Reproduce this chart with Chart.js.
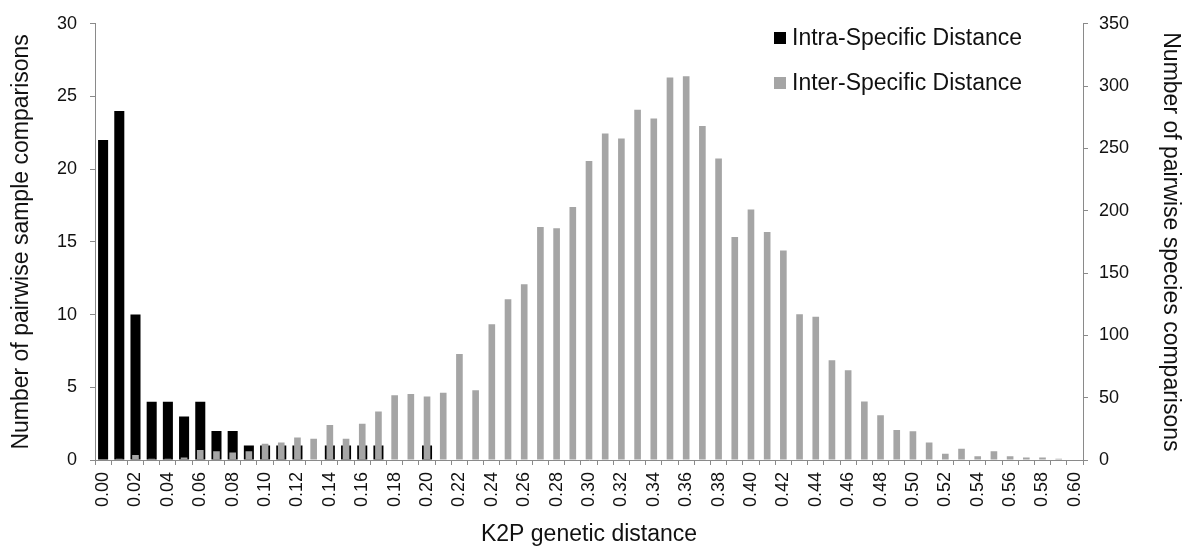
<!DOCTYPE html>
<html>
<head>
<meta charset="utf-8">
<script src="https://cdn.jsdelivr.net/npm/chart.js@4"></script>
<style>
  html, body { margin: 0; padding: 0; background: #fff; }
  #wrap { width: 1186px; height: 548px; position: relative; }
</style>
</head>
<body>
<div id="wrap"><canvas id="distChart"></canvas></div>
<script>
const distances = [
  "0.00","0.01","0.02","0.03","0.04","0.05","0.06","0.07","0.08","0.09",
  "0.10","0.11","0.12","0.13","0.14","0.15","0.16","0.17","0.18","0.19",
  "0.20","0.21","0.22","0.23","0.24","0.25","0.26","0.27","0.28","0.29",
  "0.30","0.31","0.32","0.33","0.34","0.35","0.36","0.37","0.38","0.39",
  "0.40","0.41","0.42","0.43","0.44","0.45","0.46","0.47","0.48","0.49",
  "0.50","0.51","0.52","0.53","0.54","0.55","0.56","0.57","0.58","0.59",
  "0.60"
];

// left axis: pairwise sample comparisons
const intraCounts = [
  22, 24, 10, 4, 4, 3, 4, 2, 2, 1,
  1, 1, 1, 0, 1, 1, 1, 1, 0, 0,
  1, 0, 0, 0, 0, 0, 0, 0, 0, 0,
  0, 0, 0, 0, 0, 0, 0, 0, 0, 0,
  0, 0, 0, 0, 0, 0, 0, 0, 0, 0,
  0, 0, 0, 0, 0, 0, 0, 0, 0, 0,
  0
];

// right axis: pairwise species comparisons
const interCounts = [
  0, 1, 4, 1, 1, 2, 8, 7, 6, 7,
  13, 14, 18, 17, 28, 17, 29, 39, 52, 53,
  51, 54, 85, 56, 109, 129, 141, 187, 186, 203,
  240, 262, 258, 281, 274, 307, 308, 268, 242, 179,
  201, 183, 168, 117, 115, 80, 72, 47, 36, 24,
  23, 14, 5, 9, 3, 7, 3, 2, 2, 1,
  0
];

const seriesNames = ["Intra-Specific Distance", "Inter-Specific Distance"];

const FONT = "'Liberation Sans', Arial, Helvetica, sans-serif";
const axisGray = "#8a8a8a";
const textColor = "#111";

// legend drawn inside the plot, top right
const boxLegend = {
  id: "boxLegend",
  afterDraw(chart) {
    const ctx = chart.ctx;
    const x = 774, ys = [38, 83];
    ctx.save();
    ctx.font = "23px " + FONT;
    ctx.textBaseline = "middle";
    chart.data.datasets.forEach((ds, i) => {
      ctx.fillStyle = ds.backgroundColor;
      ctx.fillRect(x, ys[i] - 6, 12, 12);
      ctx.fillStyle = textColor;
      ctx.fillText(ds.label, x + 18, ys[i] + 1);
    });
    ctx.restore();
  }
};

const ctx = document.getElementById("distChart").getContext("2d");
const chart = new Chart(ctx, {
  type: "bar",
  data: {
    labels: distances,
    datasets: [
      {
        label: seriesNames[0],
        data: intraCounts,
        backgroundColor: "#000000",
        yAxisID: "y",
        barPercentage: 0.62,
        categoryPercentage: 1,
        grouped: false,
        order: 2
      },
      {
        label: seriesNames[1],
        data: interCounts,
        backgroundColor: "#a5a5a5",
        yAxisID: "y2",
        barPercentage: 0.41,
        categoryPercentage: 1,
        grouped: false,
        order: 1
      }
    ]
  },
  options: {
    responsive: true,
    maintainAspectRatio: false,
    animation: false,
    layout: { padding: { top: 17, left: 0, right: 0, bottom: 0 } },
    plugins: {
      legend: { display: false },
      tooltip: { enabled: false }
    },
    scales: {
      x: {
        offset: true,
        grid: { display: true, drawOnChartArea: false, drawTicks: true, tickLength: 5, color: axisGray, offset: true },
        border: { color: axisGray },
        ticks: {
          autoSkip: false,
          minRotation: 90,
          maxRotation: 90,
          padding: 7,
          color: textColor,
          font: { family: FONT, size: 18 },
          callback: function (v, i) { return i % 2 === 0 ? this.getLabelForValue(v) : ""; }
        },
        title: {
          display: true,
          text: "K2P genetic distance",
          color: textColor,
          font: { family: FONT, size: 23 },
          padding: { top: 0, bottom: 0 }
        },
        afterFit: s => { s.height = 88; }
      },
      y: {
        position: "left",
        min: 0,
        max: 30,
        grid: { drawOnChartArea: false, tickLength: 5, color: axisGray },
        border: { color: axisGray },
        ticks: { stepSize: 5, padding: 13, color: textColor, font: { family: FONT, size: 18 } },
        title: {
          display: true,
          text: "Number of pairwise sample comparisons",
          color: textColor,
          font: { family: FONT, size: 23 },
          padding: { top: 8, bottom: 0 }
        },
        afterFit: s => { s.width = 95; }
      },
      y2: {
        position: "right",
        min: 0,
        max: 350,
        grid: { drawOnChartArea: false, tickLength: 5, color: axisGray },
        border: { color: axisGray },
        ticks: { stepSize: 50, padding: 11, color: textColor, font: { family: FONT, size: 18 } },
        title: {
          display: true,
          text: "Number of pairwise species comparisons",
          color: textColor,
          font: { family: FONT, size: 23 },
          padding: { top: 2, bottom: 0 }
        },
        afterFit: s => { s.width = 103; }
      }
    }
  },
  plugins: [boxLegend]
});
</script>
</body>
</html>
